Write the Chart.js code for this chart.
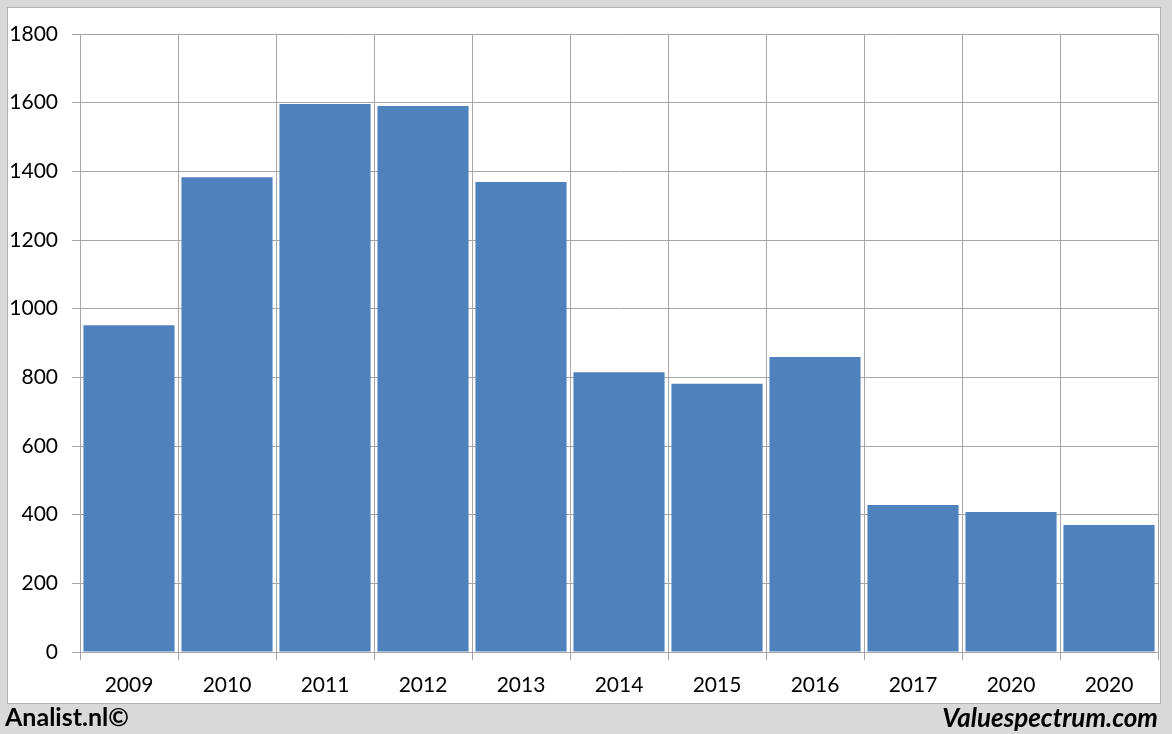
<!DOCTYPE html>
<html>
<head>
<meta charset="utf-8">
<script src="https://cdn.jsdelivr.net/npm/chart.js@4/dist/chart.umd.min.js"></script>
<style>
  body { margin: 0; width: 1172px; height: 734px; background: #d9d9d9; position: relative; overflow: hidden; }
  #panel { position: absolute; left: 7px; top: 7px; width: 1152px; height: 695px; background: #fff; border: 1px solid #b4b4b4; }
  #wrap { position: absolute; left: 0; top: 0; width: 1172px; height: 734px; }
  .note { position: absolute; top: 701px; font-family: Lato, sans-serif; font-weight: bold; font-size: 25px; color: #000; }
  #left { left: 5px; }
  #right { right: 14px; font-style: italic; font-size: 26px; }
</style>
</head>
<body>
<div id="panel"></div>
<div id="wrap"><canvas id="myChart" width="1172" height="734"></canvas></div>
<div class="note" id="left">Analist.nl©</div>
<div class="note" id="right">Valuespectrum.com</div>
<script>
'use strict'

const years = ['2009', '2010', '2011', '2012', '2013', '2014', '2015', '2016', '2017', '2020', '2020'];
const values = [952, 1383, 1596, 1590, 1369, 815, 781, 859, 428, 408, 370];
const yMin = 0;
const yMax = 1800;
const yStep = 200;

const gridColor = '#a6a6a6';

let ctx = document.getElementById('myChart').getContext('2d');
let chart = new Chart(ctx, {
  type: 'bar',
  data: {
    labels: years,
    datasets: [{
      data: values,
      backgroundColor: '#4f81bd',
      borderWidth: 0,
      barPercentage: 0.93,
      categoryPercentage: 1
    }]
  },
  options: {
    responsive: false,
    animation: false,
    layout: { padding: { left: 0, right: 14, top: 34, bottom: 30 } },
    plugins: { legend: { display: false }, tooltip: { enabled: false } },
    scales: {
      x: {
        grid: { offset: true, color: gridColor, tickLength: 8, lineWidth: 1 },
        border: { color: gridColor },
        ticks: { color: '#000', font: { family: 'Lato', size: 21 }, padding: 13, maxRotation: 0 },
        afterFit: function(scale) { scale.height = 52; }
      },
      y: {
        min: yMin,
        max: yMax,
        grid: { color: gridColor, tickLength: 8 },
        border: { color: gridColor },
        ticks: {
          stepSize: yStep, color: '#000', font: { family: 'Lato', size: 21 }, padding: 14,
          callback: function(v) { return String(v); }
        },
        afterFit: function(scale) { scale.width = 80; }
      }
    }
  }
});
</script>
</body>
</html>
